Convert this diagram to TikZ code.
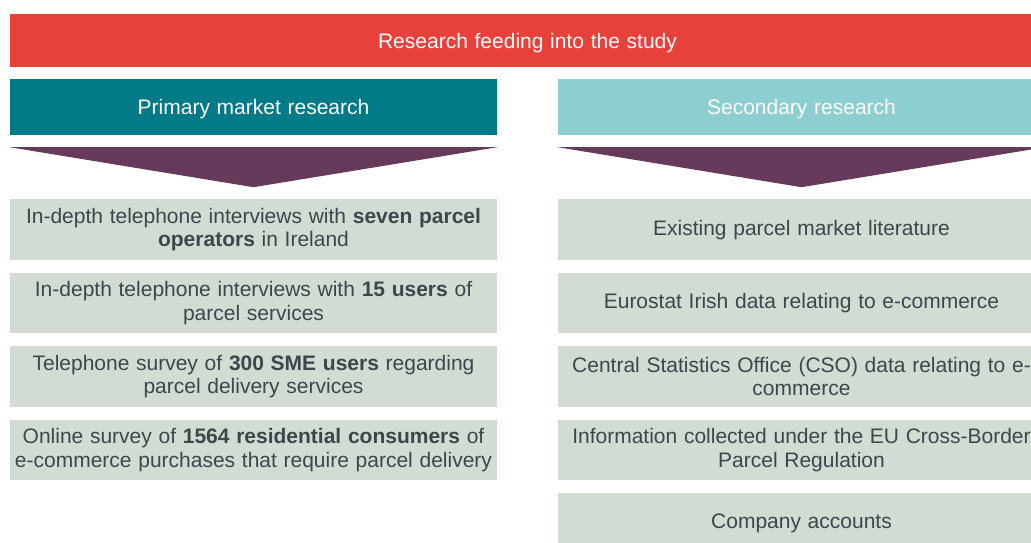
\documentclass[tikz,border=0pt]{standalone}
\usepackage{fontspec}
\setmainfont{Liberation Sans}[WordSpace=1.15]
\usepackage{xcolor}
\usetikzlibrary{positioning}

\definecolor{studyred}{HTML}{E8403A}
\definecolor{primteal}{HTML}{007A87}
\definecolor{secteal}{HTML}{8DCFD1}
\definecolor{chevpurple}{HTML}{673A5B}
\definecolor{itemgrey}{HTML}{D3DCD3}
\definecolor{itemtext}{HTML}{3C474C}

\begin{document}
\begin{tikzpicture}[
 node distance=12.5pt,
 every node/.style={font=\fontsize{21}{23.5}\selectfont},
 bar/.style={fill=studyred,text=white,text depth=0pt,
 minimum width=1035pt,minimum height=53pt},
 head/.style={text=white,text depth=0pt,minimum width=487pt,minimum height=56pt},
 item/.style={fill=itemgrey,text=itemtext,align=center,
 minimum width=487pt,minimum height=60.5pt},
 chev/.style={fill=chevpurple}]
\useasboundingbox (0,0) rectangle (1031pt,-542pt);
\clip (0,0) rectangle (1031pt,-542pt);

\node[bar] (study) at (527.5pt,-40.5pt) {Research feeding into the study};

% the two columns
\node[head,fill=primteal] (prim) at (253.5pt,-107pt) {Primary market research};
\node[head,fill=secteal] (sec) at (801.5pt,-107pt) {Secondary research};

\fill[chev] ([yshift=-12pt]prim.south west) -- ([yshift=-12pt]prim.south east)
 -- ([yshift=-52pt]prim.south) -- cycle;
\fill[chev] ([yshift=-12pt]sec.south west) -- ([yshift=-12pt]sec.south east)
 -- ([yshift=-52pt]sec.south) -- cycle;

% primary research
\node[item,below=64pt of prim] (phone) {In-depth telephone interviews with \textbf{seven parcel}\\
 \textbf{operators} in Ireland};
\node[item,below=of phone] (users) {In-depth telephone interviews with \textbf{15 users} of\\
 parcel services};
\node[item,below=of users] (sme) {Telephone survey of \textbf{300 SME users} regarding\\
 parcel delivery services};
\node[item,below=of sme] (online) {Online survey of \textbf{1564 residential consumers} of\\
 e-commerce purchases that require parcel delivery};

% secondary research
\node[item,below=64pt of sec] (lit) {Existing parcel market literature};
\node[item,below=of lit] (euro) {Eurostat Irish data relating to e-commerce};
\node[item,below=of euro] (cso) {Central Statistics Office (CSO) data relating to e-\\
 commerce};
\node[item,below=of cso] (reg) {Information collected under the EU Cross-Border\\
 Parcel Regulation};
\node[item,below=of reg] (acc) {Company accounts};
\end{tikzpicture}
\end{document}
